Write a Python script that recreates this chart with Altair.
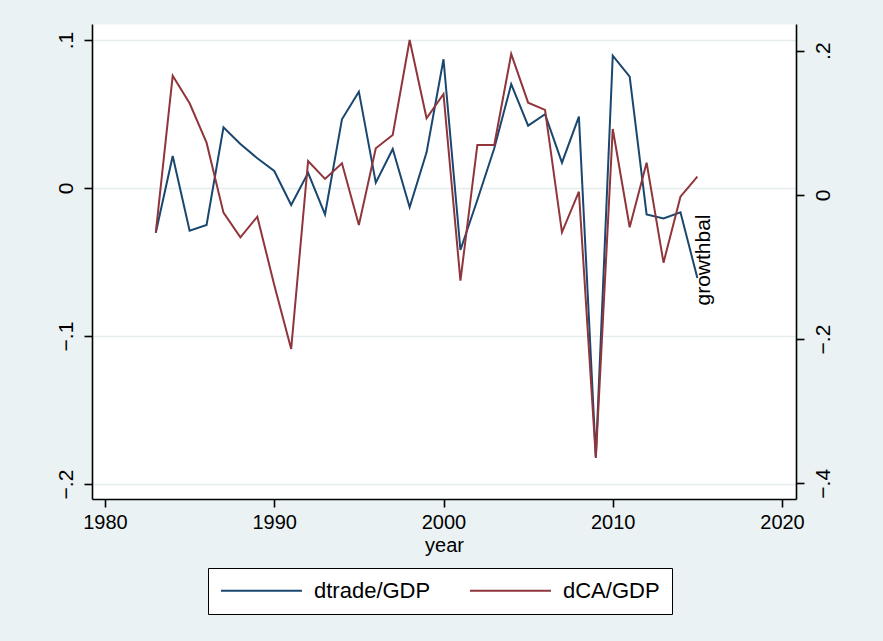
import altair as alt
import pandas as pd

# Annual changes, 1983-2015
years = list(range(1983, 2016))
dtrade_gdp = [-0.0302, 0.0216, -0.0289, -0.0250, 0.0410, 0.0297, 0.0201, 0.0115,
              -0.0115, 0.0103, -0.0178, 0.0464, 0.0651, 0.0036, 0.0264, -0.0130,
              0.0241, 0.0870, -0.0419, -0.0081, 0.0268, 0.0701, 0.0421, 0.0498,
              0.0171, 0.0482, -0.1816, 0.0894, 0.0752, -0.0178, -0.0205, -0.0164,
              -0.0608]
dca_gdp = [-0.0524, 0.1653, 0.1270, 0.0724, -0.0247, -0.0588, -0.0302, -0.1250,
           -0.2137, 0.0470, 0.0221, 0.0438, -0.0417, 0.0646, 0.0831, 0.2148,
           0.1062, 0.1399, -0.1190, 0.0692, 0.0692, 0.1954, 0.1279, 0.1178,
           -0.0519, 0.0044, -0.3649, 0.0914, -0.0449, 0.0447, -0.0940, -0.0025,
           0.0252]

series_names = ["dtrade/GDP", "dCA/GDP"]
series_colors = ["#1a476f", "#90353b"]
x_ticks = [1980, 1990, 2000, 2010, 2020]
left_ticks = [-0.2, -0.1, 0.0, 0.1]
right_ticks = [-0.4, -0.2, 0.0, 0.2]
note_text = "growthbal"

FONT = "Liberation Sans"
BG = "#eaf2f3"

df = pd.DataFrame({
    "year": years * 2,
    "value": dtrade_gdp + dca_gdp,
    "series": [series_names[0]] * len(years) + [series_names[1]] * len(years),
})
note_df = pd.DataFrame({"year": [years[-1]], "value": [dtrade_gdp[-1]], "label": [note_text]})

# Stata-style tick labels: .1, 0, -.1
stata_fmt = "abs(datum.value) < 1e-9 ? '0' : replace(format(datum.value, '.1f'), '0.', '.')"

x_domain = [1979.232, 2020.827]
x_enc = alt.X(
    "year:Q",
    scale=alt.Scale(domain=x_domain, nice=False, zero=False),
    axis=alt.Axis(values=x_ticks, format="d", title="year", grid=False,
                  labelPadding=5, titlePadding=3),
)

color_enc = alt.Color(
    "series:N",
    scale=alt.Scale(domain=series_names, range=series_colors),
    legend=alt.Legend(title=None),
)

left_scale = alt.Scale(domain=[-0.2101, 0.1108], nice=False, zero=False)
right_scale = alt.Scale(domain=[-0.4218, 0.2370], nice=False, zero=False)

left_line = alt.Chart(df).transform_filter(
    alt.datum.series == series_names[0]
).mark_line(strokeWidth=2).encode(
    x=x_enc,
    y=alt.Y("value:Q", scale=left_scale,
            axis=alt.Axis(orient="left", values=left_ticks, labelExpr=stata_fmt,
                          title=None, grid=True, gridColor="#e4ecee", gridWidth=1.5,
                          labelAngle=270, labelAlign="center", labelBaseline="alphabetic",
                          labelPadding=12, labelFontSize=21)),
    color=color_enc,
)

right_line = alt.Chart(df).transform_filter(
    alt.datum.series == series_names[1]
).mark_line(strokeWidth=2).encode(
    x=x_enc,
    y=alt.Y("value:Q", scale=right_scale,
            axis=alt.Axis(orient="right", values=right_ticks, labelExpr=stata_fmt,
                          title=None, grid=False,
                          labelAngle=270, labelAlign="center", labelBaseline="top",
                          labelPadding=8, labelFontSize=21)),
    color=color_enc,
)

note = alt.Chart(note_df).mark_text(
    angle=270, align="center", baseline="middle", dx=18, dy=7,
    font=FONT, fontSize=21, color="black",
).encode(
    x=alt.X("year:Q", scale=alt.Scale(domain=x_domain, nice=False, zero=False)),
    y=alt.Y("value:Q", scale=left_scale, axis=None),
    text="label:N",
)

chart = alt.layer(left_line, right_line, note).resolve_scale(
    y="independent"
).properties(
    width=704,
    height=475,
    autosize=alt.AutoSizeParams(type="none"),
    padding={"left": 92, "top": 24, "right": 87, "bottom": 142},
    background=BG,
).configure_view(
    fill="white", stroke="transparent"
).configure_axis(
    labelFont=FONT, labelFontSize=20, labelColor="black",
    titleFont=FONT, titleFontSize=20, titleColor="black", titleFontWeight="normal",
    domainColor="black", domainWidth=1.6,
    tickColor="black", tickWidth=1.6, tickSize=8,
    labelOverlap=False, labelFlush=False,
).configure_legend(
    orient="none", legendX=116, legendY=544,
    direction="horizontal",
    symbolType="stroke", symbolSize=6561, symbolStrokeWidth=2,
    clipHeight=21,
    labelFont=FONT, labelFontSize=22, labelColor="black", labelOffset=11,
    columnPadding=38, padding=12,
    strokeColor="black", fillColor="white",
)

chart.save("out.html", embed_options={"renderer": "svg", "actions": False})
